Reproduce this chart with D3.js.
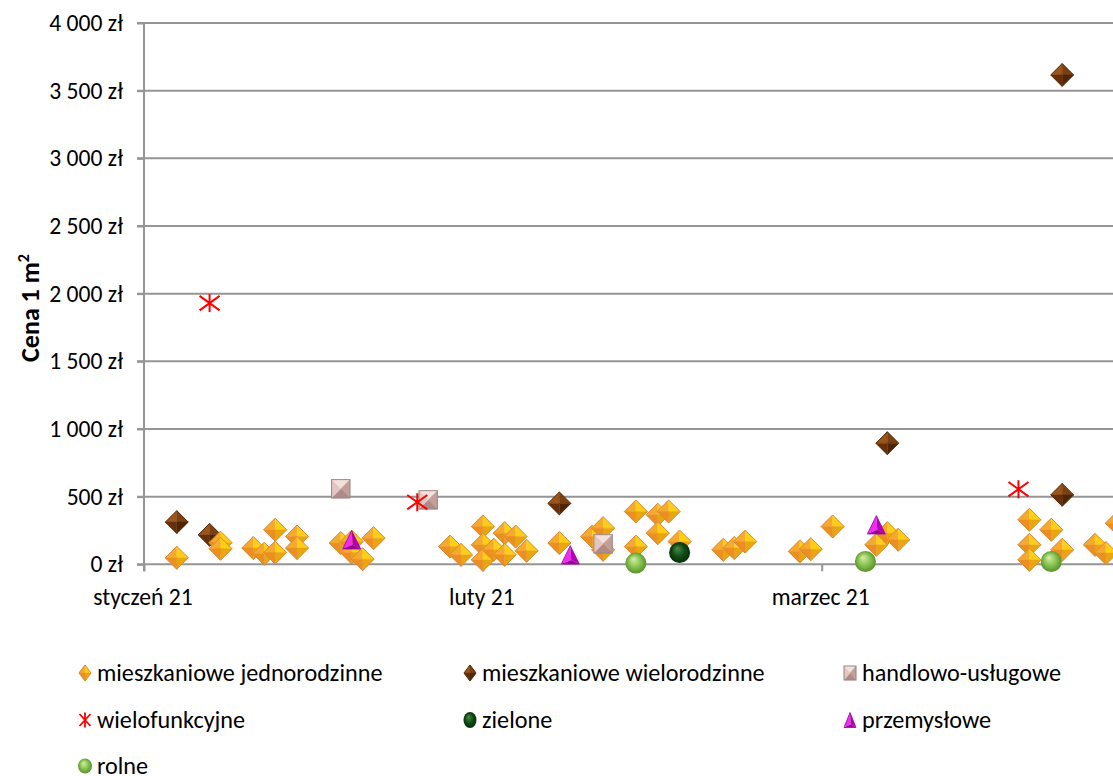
<!DOCTYPE html>
<html>
<head>
<meta charset="utf-8">
<script src="https://cdn.jsdelivr.net/npm/d3@7"></script>
<style>
  body { margin: 0; background: #fff; }
  svg { display: block; font-family: Carlito, Lato, sans-serif; }
</style>
</head>
<body>
<svg id="chart" width="1113" height="776"></svg>
<script>
// ---- axis ticks ----
const xTickDates = ["2021-01-01", "2021-02-01", "2021-03-04"];
const yTickValues = [0, 500, 1000, 1500, 2000, 2500, 3000, 3500, 4000];
const monthNamesPl = ["styczeń", "luty", "marzec", "kwiecień", "maj", "czerwiec",
  "lipiec", "sierpień", "wrzesień", "październik", "listopad", "grudzień"];

// ---- transactions: [date, price per m² in zł] ----
const jednorodzinne = [
  ["2021-01-04", 48], ["2021-01-08", 160], ["2021-01-08", 115], ["2021-01-11", 120],
  ["2021-01-12", 78], ["2021-01-13", 255], ["2021-01-13", 87], ["2021-01-15", 205],
  ["2021-01-15", 120], ["2021-01-19", 157], ["2021-01-20", 168], ["2021-01-20", 87],
  ["2021-01-21", 38], ["2021-01-22", 193], ["2021-01-29", 131], ["2021-01-30", 70],
  ["2021-02-01", 279], ["2021-02-01", 144], ["2021-02-01", 33], ["2021-02-02", 107],
  ["2021-02-03", 230], ["2021-02-03", 70], ["2021-02-04", 205], ["2021-02-05", 100],
  ["2021-02-08", 157], ["2021-02-11", 205], ["2021-02-12", 267], ["2021-02-12", 107],
  ["2021-02-15", 390], ["2021-02-15", 131], ["2021-02-17", 366], ["2021-02-17", 230],
  ["2021-02-18", 390], ["2021-02-19", 168], ["2021-02-23", 107], ["2021-02-24", 120],
  ["2021-02-25", 168], ["2021-03-02", 95], ["2021-03-03", 112], ["2021-03-05", 279],
  ["2021-03-09", 144], ["2021-03-10", 230], ["2021-03-11", 181], ["2021-03-23", 329],
  ["2021-03-23", 144], ["2021-03-23", 33], ["2021-03-25", 255], ["2021-03-26", 107],
  ["2021-03-29", 144], ["2021-03-30", 83], ["2021-03-31", 304]
];
const wielorodzinne = [
  ["2021-01-04", 312], ["2021-01-07", 218], ["2021-02-08", 450],
  ["2021-03-10", 895], ["2021-03-26", 513], ["2021-03-26", 3616]
];
const handlowoUslugowe = [["2021-01-19", 558], ["2021-01-27", 476], ["2021-02-12", 151]];
const wielofunkcyjne = [["2021-01-07", 1930], ["2021-01-26", 459], ["2021-03-22", 555]];
const zielone = [["2021-02-19", 87]];
const przemyslowe = [["2021-01-20", 181], ["2021-02-09", 70], ["2021-03-09", 292]];
const rolne = [["2021-02-15", 9], ["2021-03-08", 21], ["2021-03-25", 21]];

const parseDate = d3.utcParse("%Y-%m-%d");
const svg = d3.select("#chart");

// plot geometry
const plotLeft = 144, plotTop = 23, plotBottom = 564.3;
const x = d3.scaleUtc()
  .domain([parseDate("2021-01-01"), parseDate("2021-04-04")])
  .range([plotLeft, plotLeft + (821.7 - plotLeft) / 62 * 93]);
const y = d3.scaleLinear().domain([0, 4000]).range([plotBottom, plotTop]);

const gridColor = "#959595";
const labelSize = 23.6;
const legendSize = 24.2;
const fmtNum = v => d3.format(",")(v).replace(/,/g, "\u00a0") + " zł";
const fmtMonth = d => monthNamesPl[d.getUTCMonth()] + " " + d3.utcFormat("%y")(d);

// ---- gradients for the 3D markers ----
const defs = svg.append("defs");
function sphereGrad(id, c0, c1, c2) {
  const g = defs.append("radialGradient").attr("id", id)
    .attr("cx", "50%").attr("cy", "50%").attr("r", "55%")
    .attr("fx", "38%").attr("fy", "30%");
  g.append("stop").attr("offset", "0%").attr("stop-color", c0);
  g.append("stop").attr("offset", "55%").attr("stop-color", c1);
  g.append("stop").attr("offset", "100%").attr("stop-color", c2);
}
sphereGrad("gRolne", "#d6f0a8", "#86c04e", "#4e8a28");
sphereGrad("gZielone", "#4d8c4d", "#104a14", "#052a07");

// ---- marker painters (drawn around 0,0) ----
function diamond(g, hw, hh, cols, stroke) {
  const T = [0, -hh], R = [hw, 0], B = [0, hh], L = [-hw, 0], C = [0, 0];
  [[L, T, C], [T, R, C], [R, B, C], [B, L, C]].forEach((p, i) => {
    g.append("path").attr("d", "M" + p.join("L") + "Z").attr("fill", cols[i])
      .attr("stroke", cols[i]).attr("stroke-width", 0.4);
  });
  g.append("path").attr("d", "M" + [T, R, B, L].join("L") + "Z")
    .attr("fill", "none").attr("stroke", stroke).attr("stroke-width", 1);
}
const orangeCols = ["#f5a92e", "#ffcf17", "#e9a60e", "#ec8f22"];
const brownCols = ["#9a561d", "#7a4011", "#4f2506", "#653009"];

function square(g, h, w) {
  const ww = w || h;
  const TL = [-ww, -h], TR = [ww, -h], BR = [ww, h], BL = [-ww, h], C = [0, 0];
  const cols = ["#f3e1dd", "#c49f9a", "#ae8b86", "#e2c6c1"];
  [[TL, TR, C], [TR, BR, C], [BR, BL, C], [BL, TL, C]].forEach((p, i) => {
    g.append("path").attr("d", "M" + p.join("L") + "Z").attr("fill", cols[i])
      .attr("stroke", cols[i]).attr("stroke-width", 0.4);
  });
  g.append("rect").attr("x", -ww).attr("y", -h).attr("width", 2 * ww).attr("height", 2 * h)
    .attr("fill", "none").attr("stroke", "#9d8986").attr("stroke-width", 1);
}

function asterisk(g, hw, hh, sw) {
  g.append("path")
    .attr("d", `M0,${-hh}L0,${hh}M${-hw},${-hh * 0.8}L${hw},${hh * 0.8}M${-hw},${hh * 0.8}L${hw},${-hh * 0.8}`)
    .attr("stroke", "#ff0000").attr("stroke-width", sw).attr("fill", "none");
}

function triangle(g, hw, hh) {
  const A = [0, -hh], BL = [-hw, hh], BR = [hw, hh], M = [hw * 0.1, hh * 0.55];
  g.append("path").attr("d", "M" + [A, BL, M].join("L") + "Z").attr("fill", "#f02cf0");
  g.append("path").attr("d", "M" + [A, M, BR].join("L") + "Z").attr("fill", "#b300b8");
  g.append("path").attr("d", "M" + [BL, M, BR].join("L") + "Z").attr("fill", "#9c009c");
  g.append("path").attr("d", "M" + [A, BR, BL].join("L") + "Z")
    .attr("fill", "none").attr("stroke", "#a000a8").attr("stroke-width", 0.8);
}

function sphere(g, rx, ry, grad) {
  g.append("ellipse").attr("rx", rx).attr("ry", ry).attr("fill", `url(#${grad})`);
}

const series = [
  { key: "wielorodzinne", name: "mieszkaniowe wielorodzinne", data: wielorodzinne,
    draw: g => diamond(g, 11.4, 11.4, brownCols, "#5a2b08"),
    legend: g => diamond(g, 6, 8, brownCols, "#5a2b08") },
  { key: "jednorodzinne", name: "mieszkaniowe jednorodzinne", data: jednorodzinne,
    draw: g => diamond(g, 11.5, 11.5, orangeCols, "#d98a3c"),
    legend: g => diamond(g, 6, 8, orangeCols, "#d98a3c") },
  { key: "handlowo", name: "handlowo-usługowe", data: handlowoUslugowe,
    draw: g => square(g, 9.2),
    legend: g => square(g, 7, 6) },
  { key: "wielofunkcyjne", name: "wielofunkcyjne", data: wielofunkcyjne,
    draw: g => asterisk(g, 10, 9, 2),
    legend: g => asterisk(g, 5.5, 7.5, 1.8) },
  { key: "zielone", name: "zielone", data: zielone,
    draw: g => sphere(g, 10.5, 10.5, "gZielone"),
    legend: g => sphere(g, 6.5, 8, "gZielone") },
  { key: "przemyslowe", name: "przemysłowe", data: przemyslowe,
    draw: g => triangle(g, 9, 9.2),
    legend: g => triangle(g, 6, 7.5) },
  { key: "rolne", name: "rolne", data: rolne,
    draw: g => sphere(g, 10.5, 10.5, "gRolne"),
    legend: g => sphere(g, 7, 7.5, "gRolne") }
];

// ---- gridlines ----
svg.append("g").selectAll("line").data(yTickValues).join("line")
  .attr("x1", plotLeft - 7).attr("x2", x.range()[1])
  .attr("y1", d => y(d)).attr("y2", d => y(d))
  .attr("stroke", gridColor).attr("stroke-width", 2);

// ---- y axis ----
const yAxis = d3.axisLeft(y).tickValues(yTickValues).tickFormat(fmtNum).tickSize(7).tickPadding(14);
const gy = svg.append("g").attr("transform", `translate(${plotLeft},0)`).call(yAxis);
gy.select(".domain").remove();
gy.selectAll(".tick line").attr("stroke", gridColor).attr("stroke-width", 2);
gy.selectAll(".tick text").attr("font-size", labelSize).attr("fill", "#000")
  .attr("font-family", "Carlito, Lato, sans-serif");
svg.append("line").attr("x1", plotLeft).attr("x2", plotLeft).attr("y1", plotTop).attr("y2", plotBottom + 7)
  .attr("stroke", gridColor).attr("stroke-width", 2);

// ---- x axis ----
const xAxis = d3.axisBottom(x).tickValues(xTickDates.map(parseDate)).tickFormat(fmtMonth)
  .tickSize(7).tickPadding(17);
const gx = svg.append("g").attr("transform", `translate(0,${plotBottom})`).call(xAxis);
gx.select(".domain").remove();
gx.selectAll(".tick line").attr("stroke", gridColor).attr("stroke-width", 2);
gx.selectAll(".tick text").attr("font-size", labelSize).attr("fill", "#000")
  .attr("font-family", "Carlito, Lato, sans-serif").attr("dx", -1.5);

// ---- axis title ----
const title = svg.append("text")
  .attr("transform", "translate(39,308) rotate(-90)")
  .attr("text-anchor", "middle").attr("font-weight", "bold").attr("font-size", 26).attr("fill", "#000");
title.append("tspan").text("Cena 1 m");
title.append("tspan").text("2").attr("font-size", 16).attr("dy", -10);

// ---- points ----
const plot = svg.append("g");
series.forEach(s => {
  s.data.forEach(([d, v]) => {
    const g = plot.append("g").attr("class", s.key)
      .attr("transform", `translate(${x(parseDate(d))},${y(v)})`);
    s.draw(g);
  });
});

// ---- legend ----
const legendOrder = ["jednorodzinne", "wielorodzinne", "handlowo", "wielofunkcyjne", "zielone", "przemyslowe", "rolne"];
const colX = [85, 470, 850], rowY = [673, 720, 766];
legendOrder.forEach((k, i) => {
  const s = series.find(e => e.key === k);
  const cx = colX[i % 3], cy = rowY[Math.floor(i / 3)];
  const g = svg.append("g").attr("transform", `translate(${cx},${cy})`);
  s.legend(g);
  svg.append("text").attr("x", cx + 12).attr("y", cy).attr("dy", "0.35em")
    .attr("font-size", legendSize).attr("fill", "#000").text(s.name);
});
</script>
</body>
</html>
